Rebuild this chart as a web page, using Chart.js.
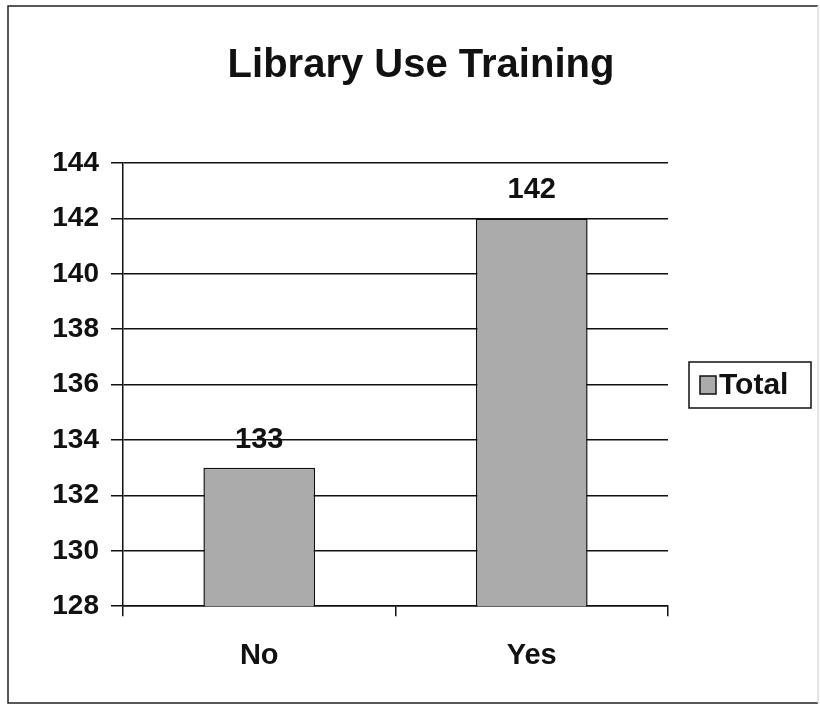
<!DOCTYPE html>
<html>
<head>
<meta charset="utf-8">
<title>Library Use Training</title>
<script src="https://cdn.jsdelivr.net/npm/chart.js@4/dist/chart.umd.min.js"></script>
<style>
  html, body { margin: 0; padding: 0; background: #fff; }
  #wrap { width: 820px; height: 709px; position: relative; }
</style>
</head>
<body>
<div id="wrap"><canvas id="chart"></canvas></div>
<script>
// data
const categories = ['No', 'Yes'];
const totals = [133, 142];
const seriesName = 'Total';
const chartTitle = 'Library Use Training';
const yMin = 128, yMax = 144, yStep = 2;

const FONT = '"Liberation Sans", Arial, sans-serif';

// value labels over the bars
const valueLabels = {
  id: 'valueLabels',
  afterDatasetsDraw(chart) {
    const ctx = chart.ctx;
    const meta = chart.getDatasetMeta(0);
    ctx.save();
    ctx.font = 'bold 29px ' + FONT;
    ctx.fillStyle = '#111';
    ctx.textAlign = 'center';
    ctx.textBaseline = 'alphabetic';
    meta.data.forEach((bar, i) => {
      ctx.fillText(String(chart.data.datasets[0].data[i]), bar.x, bar.y - 20);
    });
    ctx.restore();
  }
};

// title centred on the whole frame, boxed legend on the right, outer frame
const frameAndLegend = {
  id: 'frameAndLegend',
  afterDraw(chart) {
    const ctx = chart.ctx;
    const area = chart.chartArea;
    const ds = chart.data.datasets[0];
    ctx.save();

    // title
    ctx.fillStyle = '#111';
    ctx.font = 'bold 40px ' + FONT;
    ctx.textAlign = 'center';
    ctx.textBaseline = 'alphabetic';
    ctx.fillText(chartTitle, 421, 77);

    // legend box
    const lx = area.right + 21, ly = 362, lw = 122, lh = 46;
    ctx.strokeStyle = '#111';
    ctx.lineWidth = 1.5;
    ctx.strokeRect(lx, ly, lw, lh);
    ctx.fillStyle = ds.backgroundColor;
    ctx.fillRect(lx + 11, ly + 14, 16, 18);
    ctx.strokeRect(lx + 11, ly + 14, 16, 18);
    ctx.fillStyle = '#111';
    ctx.font = 'bold 30px ' + FONT;
    ctx.textAlign = 'left';
    ctx.textBaseline = 'middle';
    ctx.fillText(ds.label, lx + 30, ly + lh / 2 + 1);

    // outer frame
    ctx.strokeStyle = '#222';
    ctx.lineWidth = 1.5;
    ctx.beginPath();
    ctx.moveTo(818, 6);
    ctx.lineTo(8, 6);
    ctx.lineTo(8, 703);
    ctx.lineTo(818, 703);
    ctx.stroke();
    ctx.strokeStyle = '#ddd';
    ctx.beginPath();
    ctx.moveTo(818, 6);
    ctx.lineTo(818, 703);
    ctx.stroke();
    ctx.restore();
  }
};

new Chart(document.getElementById('chart'), {
  type: 'bar',
  data: {
    labels: categories,
    datasets: [{
      label: seriesName,
      data: totals,
      backgroundColor: '#ababab',
      borderColor: '#111',
      borderWidth: 1.5,
      categoryPercentage: 1,
      barPercentage: 0.41
    }]
  },
  options: {
    responsive: true,
    maintainAspectRatio: false,
    animation: false,
    layout: { padding: { left: 10, right: 152, top: 163, bottom: 14 } },
    plugins: {
      legend: { display: false },
      tooltip: { enabled: false },
      title: { display: false }
    },
    scales: {
      x: {
        grid: { drawOnChartArea: false, drawTicks: true, tickLength: 10, color: '#111', lineWidth: 1.5 },
        border: { display: true, color: '#111', width: 1.5 },
        ticks: { color: '#111', padding: 22, font: { family: FONT, size: 29, weight: 'bold' } }
      },
      y: {
        min: yMin,
        max: yMax,
        ticks: { stepSize: yStep, color: '#111', padding: 12, font: { family: FONT, size: 28, weight: 'bold' } },
        grid: { color: '#111', lineWidth: 1.5, tickLength: 12 },
        border: { display: true, color: '#111', width: 1.5 },
        afterFit(scale) { scale.width = 113; }
      }
    }
  },
  plugins: [valueLabels, frameAndLegend]
});
</script>
</body>
</html>
